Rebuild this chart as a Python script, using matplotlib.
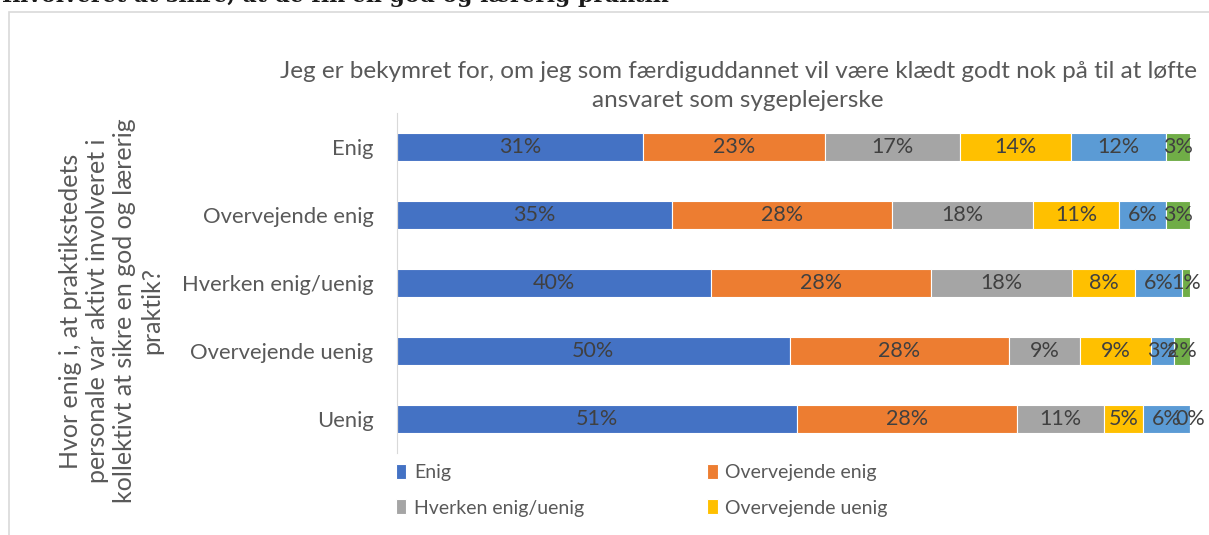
import matplotlib
matplotlib.use("Agg")
import matplotlib.pyplot as plt
from matplotlib.patches import Rectangle

# data (rows top to bottom)
rows = ["Enig", "Overvejende enig", "Hverken enig/uenig", "Overvejende uenig", "Uenig"]
series = ["Enig", "Overvejende enig", "Hverken enig/uenig", "Overvejende uenig", "Uenig", "Ved ikke"]
enig = [31, 35, 40, 50, 51]
overv_enig = [23, 28, 28, 28, 28]
hverken = [17, 18, 18, 9, 11]
overv_uenig = [14, 11, 8, 9, 5]
uenig = [12, 6, 6, 3, 6]
ved_ikke = [3, 3, 1, 2, 0]
colors = ["#4472C4", "#ED7D31", "#A5A5A5", "#FFC000", "#5B9BD5", "#70AD47"]

title = ("Jeg er bekymret for, om jeg som færdiguddannet vil være klædt godt nok på til at løfte\n"
         "ansvaret som sygeplejerske")
ylabel = ("Hvor enig i, at praktikstedets\npersonale var aktivt involveret i\n"
          "kollektivt at sikre en god og lærerig\npraktik?")
top_text = "Involveret at sikre, at de fik en god og lærerig praktik"

plt.rcParams["font.family"] = ["Lato", "DejaVu Sans"]
txt = "#595959"

W, H = 1209, 535
fig = plt.figure(figsize=(W / 100, H / 100), dpi=100)

# chart frame
fig.patches.append(Rectangle((9 / W, -0.1), 1.2, (H - 12) / H + 0.1, transform=fig.transFigure,
                             fill=False, edgecolor="#D9D9D9", linewidth=1.2))
fig.text(2 / W, 1 - 2 / H, top_text, family="DejaVu Serif", weight="bold", fontsize=15.8,
         va="baseline", ha="left", color="#1a1a1a")

ax = fig.add_axes([397 / W, 82 / H, 793 / W, 340 / H])

data = [enig, overv_enig, hverken, overv_uenig, uenig, ved_ikke]
totals = [sum(col) for col in zip(*data)]
ypos = list(range(len(rows)))
left = [0.0] * len(rows)
handles = []
for name, vals, c in zip(series, data, colors):
    widths = [v / t for v, t in zip(vals, totals)]
    bars = ax.barh(ypos, widths, left=left, height=0.4, color=c, edgecolor="white",
                   linewidth=0.8, label=name)
    ax.bar_label(bars, labels=[f"{v}%" for v in vals], label_type="center",
                 color="#404040", fontsize=15.5)
    handles.append(bars)
    left = [l + w for l, w in zip(left, widths)]

ax.set_xlim(0, 1)
ax.set_ylim(len(rows) - 0.5, -0.5)
ax.set_yticks(ypos)
ax.set_yticklabels(rows, fontsize=15.8, color=txt)
ax.tick_params(axis="y", length=0, pad=17)
ax.set_xticks([])
for s in ["top", "right", "bottom"]:
    ax.spines[s].set_visible(False)
ax.spines["left"].set_color("#D9D9D9")

fig.text(738 / W, 1 - 86 / H, title, ha="center", va="center", fontsize=17.5,
         color=txt, linespacing=1.45)
fig.text(111 / W, 1 - 311 / H, ylabel, ha="center", va="center", rotation=90,
         fontsize=18, color=txt, linespacing=1.22)

# row-wise legend order for 2 columns
order = [0, 2, 4, 1, 3, 5]
ax.legend([handles[i] for i in order], [series[i] for i in order],
          loc="upper left", bbox_to_anchor=(388 / W, 1 - 456 / H), bbox_transform=fig.transFigure,
          ncol=2, frameon=False, fontsize=14, labelcolor=txt, handlelength=0.55,
          handleheight=0.8, handletextpad=0.4, columnspacing=6.3, labelspacing=0.95,
          borderaxespad=0)

fig.savefig("out.png", dpi=100)
